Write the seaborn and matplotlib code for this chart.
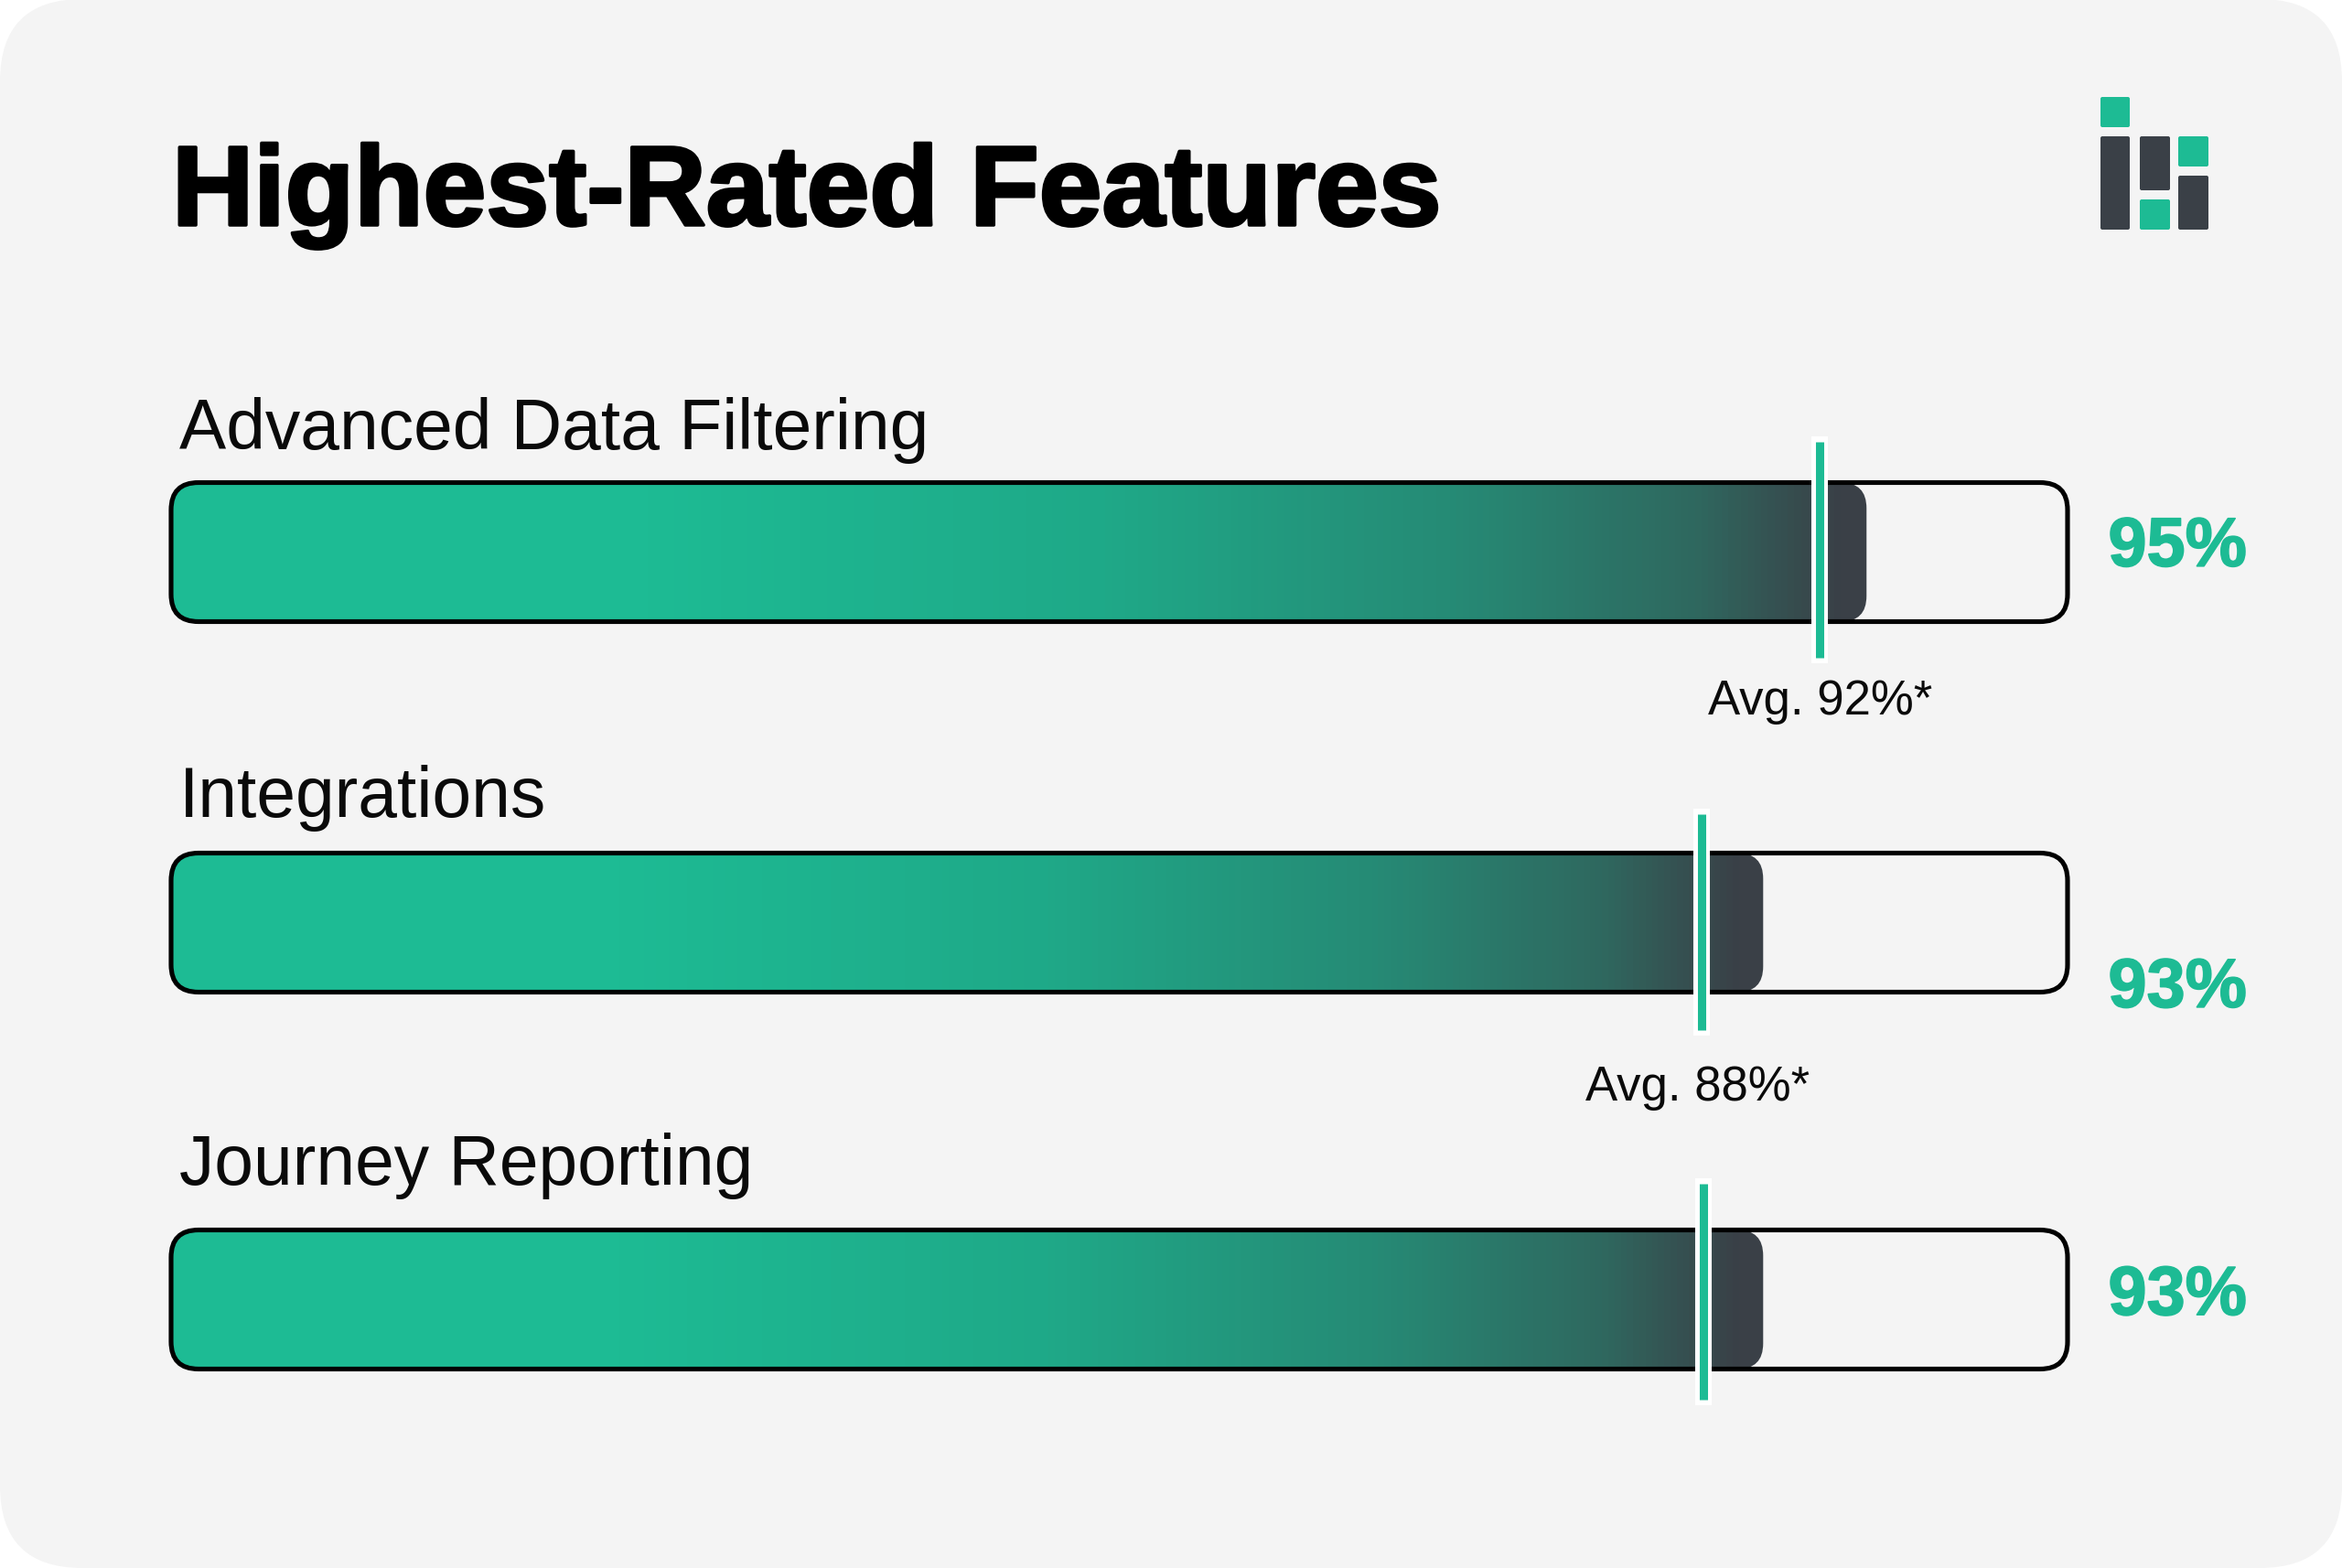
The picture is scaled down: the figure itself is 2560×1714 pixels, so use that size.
"""Highest-rated features card: progress bars with gradient fill and average markers."""

import matplotlib.patheffects as pe
import matplotlib.pyplot as plt
import numpy as np
import pandas as pd
import seaborn as sns
from matplotlib.colors import LinearSegmentedColormap
from matplotlib.patches import FancyBboxPatch

# values (bars are drawn as a share of the outlined track)
features = ["Advanced Data Filtering", "Integrations", "Journey Reporting"]
fill_share = [89.4, 83.95, 83.95]
avg_share = [86.95, 80.7, 80.8]
score_labels = ["95%", "93%", "93%"]
avg_labels = ["Avg. 92%*", "Avg. 88%*", None]

GREEN = "#1dbb94"
DARK = "#3a4047"
CARD = "#f4f4f4"
INK = "#0a0a0a"
W, H = 2560, 1715
DPI = 100
BAR_LEFT, BAR_RIGHT = 187, 2260
ROW_TOP, ROW_STEP, BAR_H = 602, 408.5, 152

# per-row layout tweaks, the rows in the card are not evenly spaced
row_nudge = [2.5, -1, 2.5]  # px
marker_nudge = [-2.5, -1, -9]  # px
label_dy = [82, 84, 91]  # pt
score_dy = [-11, -66.5, -12]  # pt
avg_dy = [-127, -139, 0]  # pt
avg_dx = [0, -3, 0]  # pt

sns.set_theme(style="white")
plt.rcParams["font.family"] = ["Liberation Sans", "DejaVu Sans"]

fig = plt.figure(figsize=(W / DPI, H / DPI), dpi=DPI, facecolor="white")

# pixel-space layer for the card and the logo
bg = fig.add_axes([0, 0, 1, 1])
bg.set_xlim(0, W)
bg.set_ylim(H, 0)
bg.axis("off")
bg.add_patch(
    FancyBboxPatch(
        (0, 0), W, H, boxstyle="round,pad=0,rounding_size=90", fc=CARD, ec="none"
    )
)

logo = [
    (2296, 107, 32, 33, GREEN),
    (2296, 150, 32, 102, DARK),
    (2339, 150, 33, 59, DARK),
    (2339, 219, 33, 33, GREEN),
    (2381, 150, 33, 33, GREEN),
    (2381, 193, 33, 59, DARK),
]
for x, y, w, h, c in logo:
    bg.add_patch(
        FancyBboxPatch(
            (x, y), w, h, boxstyle="round,pad=0,rounding_size=2", fc=c, ec="none"
        )
    )

bg.text(
    188, 247, "Highest-Rated Features", fontsize=89, fontweight="bold",
    color="black", va="baseline",
    path_effects=[pe.withStroke(linewidth=2.5, foreground="black")],
)

# bars
top = ROW_TOP - ROW_STEP / 2
ax = fig.add_axes(
    [
        BAR_LEFT / W,
        1 - (top + 3 * ROW_STEP) / H,
        (BAR_RIGHT - BAR_LEFT) / W,
        3 * ROW_STEP / H,
    ]
)
df = pd.DataFrame({"feature": features, "share": fill_share})
sns.barplot(
    data=df, x="share", y="feature", orient="y", width=BAR_H / ROW_STEP, ax=ax,
    color=GREEN,
)
ax.set_xlim(0, 100)
ylim = ax.get_ylim()
ax.axis("off")

x_per_px = 100 / (BAR_RIGHT - BAR_LEFT)
y_per_px = 1 / ROW_STEP
aspect = y_per_px / x_per_px

cmap = LinearSegmentedColormap.from_list(
    "fill",
    [
        (0, GREEN),
        (0.28, GREEN),
        (0.55, "#1fa988"),
        (0.76, "#268a75"),
        (0.9, "#2f685f"),
        (0.985, DARK),
        (1, DARK),
    ],
)
ramp = np.linspace(0, 1, 512).reshape(1, -1)

for i, bar in enumerate(list(ax.patches)[:3]):
    y0 = bar.get_y() + row_nudge[i] * y_per_px
    bh, bw = bar.get_height(), bar.get_width()
    bar.set_visible(False)

    clip = FancyBboxPatch(
        (0, y0), bw, bh, boxstyle=f"round,pad=0,rounding_size={28 * x_per_px}",
        mutation_aspect=aspect, fc="none", ec="none", transform=ax.transData,
    )
    ax.add_patch(clip)
    im = ax.imshow(
        ramp, cmap=cmap, extent=[0, bw, y0 + bh, y0], aspect="auto", zorder=2,
        vmin=0, vmax=1,
    )
    im.set_clip_path(clip)

    ax.add_patch(
        FancyBboxPatch(
            (0, y0), 100, bh, boxstyle=f"round,pad=0,rounding_size={30 * x_per_px}",
            mutation_aspect=aspect, fc="none", ec="black", lw=3.7, zorder=3,
            clip_on=False,
        )
    )

    # average marker: white halo behind a green tick
    yc = y0 + bh / 2
    ym = yc + marker_nudge[i] * y_per_px
    ax.plot(
        [avg_share[i]] * 2, [ym - 124 * y_per_px, ym + 124 * y_per_px], color="white",
        lw=13, solid_capstyle="butt", zorder=4,
    )
    ax.plot(
        [avg_share[i]] * 2, [ym - 118 * y_per_px, ym + 118 * y_per_px], color=GREEN,
        lw=6.5, solid_capstyle="butt", zorder=5,
    )

    ax.annotate(
        features[i], xy=(0, yc), xytext=(6.5, label_dy[i]), textcoords="offset points",
        fontsize=55.3, color=INK, va="baseline", annotation_clip=False,
    )
    ax.annotate(
        score_labels[i], xy=(100, yc), xytext=(32, score_dy[i]),
        textcoords="offset points", fontsize=54.5, fontweight="bold", color=GREEN,
        va="baseline", annotation_clip=False,
        path_effects=[pe.withStroke(linewidth=1.2, foreground=GREEN)],
    )
    if avg_labels[i]:
        ax.annotate(
            avg_labels[i], xy=(avg_share[i], yc), xytext=(avg_dx[i], avg_dy[i]),
            textcoords="offset points", fontsize=38, color=INK, ha="center",
            va="baseline", annotation_clip=False,
        )

ax.set_xlim(0, 100)
ax.set_ylim(ylim)

fig.savefig("out.png", dpi=DPI, facecolor="white")
